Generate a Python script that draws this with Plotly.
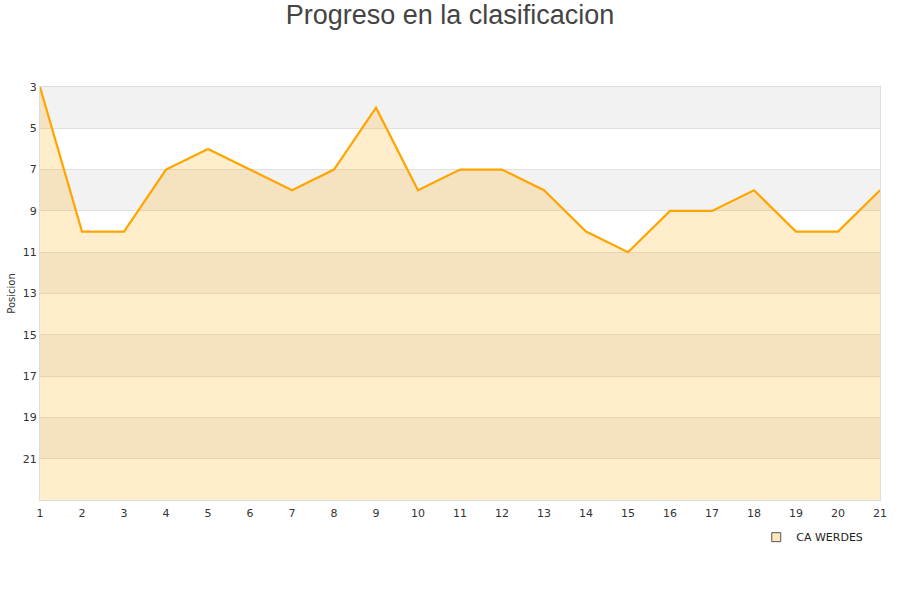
import plotly.graph_objects as go

jornadas = list(range(1, 22))
posicion = [3, 10, 10, 7, 6, 7, 8, 7, 4, 8, 7, 7, 8, 10, 11, 9, 9, 8, 10, 10, 8]
equipo = 'CA WERDES'
ticks_y = [3, 5, 7, 9, 11, 13, 15, 17, 19, 21]
fondo = 23

fig = go.Figure()

# franjas grises alternas
for i in range(0, len(ticks_y), 2):
    fig.add_shape(type='rect', xref='paper', yref='y', x0=0, x1=1,
                  y0=ticks_y[i], y1=ticks_y[i] + 2,
                  fillcolor='#f2f2f2', line_width=0, layer='below')

fig.add_trace(go.Scatter(x=jornadas, y=[fondo] * len(jornadas), mode='lines',
                         line=dict(width=0), showlegend=False, hoverinfo='skip'))
fig.add_trace(go.Scatter(x=jornadas, y=posicion, mode='lines', name=equipo,
                         fill='tonexty', fillcolor='rgba(255,165,0,0.2)',
                         line=dict(color='#ffa500', width=2.2), showlegend=False))
# marcador de la leyenda
fig.add_trace(go.Scatter(x=[None], y=[None], mode='markers', name=equipo,
                         marker=dict(symbol='square', size=9, color='#ffe7bd',
                                     line=dict(color='#555', width=1))))

fig.update_layout(
    title=dict(text='Progreso en la clasificacion', x=0.5, xanchor='center',
               y=0.976, yanchor='middle',
               font=dict(family='Liberation Sans', size=27, color='#444')),
    width=900, height=600,
    margin=dict(l=40, r=20, t=87, b=100),
    plot_bgcolor='white', paper_bgcolor='white',
    font=dict(family='DejaVu Sans', size=11, color='#333'),
    legend=dict(x=0.986, xanchor='right', y=-0.09, yanchor='middle',
                font=dict(size=11, color='#222'), bgcolor='rgba(0,0,0,0)'),
    showlegend=True,
)
fig.update_xaxes(range=[1, 21], tickvals=jornadas, showgrid=False, zeroline=False,
                 showline=True, linecolor='#ddd', mirror=True, automargin=False,
                 ticks='outside', ticklen=3, tickcolor='rgba(0,0,0,0)')
fig.update_yaxes(range=[fondo, 3], tickvals=ticks_y, showgrid=True, gridcolor='#e0e0e0',
                 zeroline=False, showline=True, linecolor='#ddd', mirror=True, automargin=False,
                 title=dict(text='Posicion', font=dict(size=10, color='#333'), standoff=5))

fig.write_html('out.html', config={'displayModeBar': False},
               post_script="document.body.style.margin='0';")
